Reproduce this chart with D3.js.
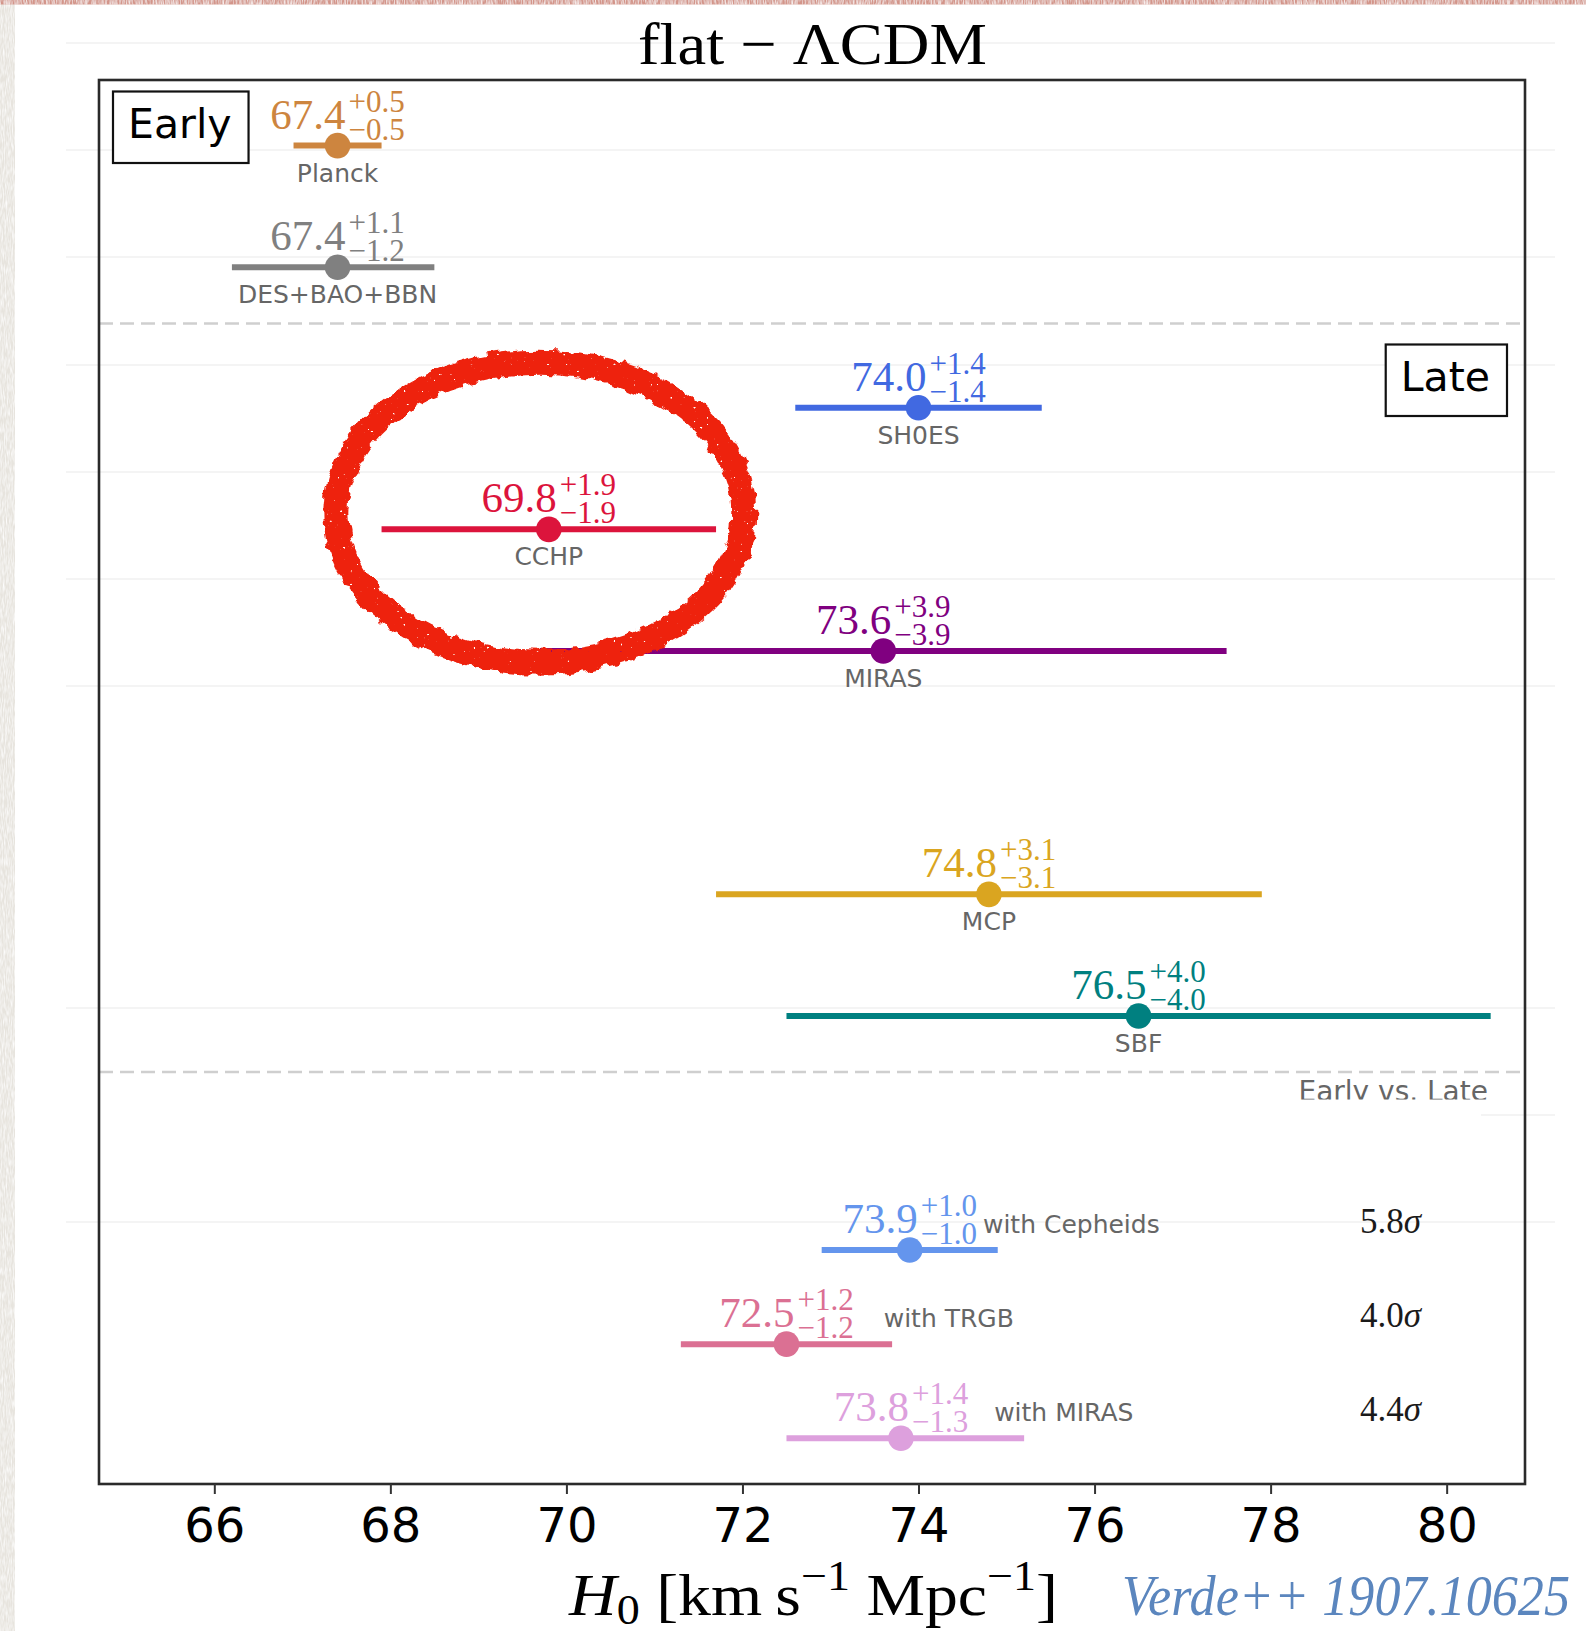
<!DOCTYPE html>
<html>
<head>
<meta charset="utf-8">
<script src="https://cdn.jsdelivr.net/npm/d3@7"></script>
<style>
  html, body { margin: 0; padding: 0; background: #ffffff; }
  svg { display: block; }
  text { white-space: pre; }
</style>
</head>
<body>
<svg id="chart" width="1586" height="1631"></svg>
<script>
// ---- H0 measurements (km s^-1 Mpc^-1) ----
const names    = ["Planck", "DES+BAO+BBN", "SH0ES", "CCHP", "MIRAS", "MCP", "SBF",
                  "with Cepheids", "with TRGB", "with MIRAS"];
const groups   = ["Early", "Early", "Late", "Late", "Late", "Late", "Late",
                  "Combined", "Combined", "Combined"];
const h0       = [67.4, 67.4, 74.0, 69.8, 73.6, 74.8, 76.5, 73.9, 72.5, 73.8];
const errPlus  = [0.5, 1.1, 1.4, 1.9, 3.9, 3.1, 4.0, 1.0, 1.2, 1.4];
const errMinus = [0.5, 1.2, 1.4, 1.9, 3.9, 3.1, 4.0, 1.0, 1.2, 1.3];
// early-vs-late tension for the combined rows, in sigma
const tensionNames = ["with Cepheids", "with TRGB", "with MIRAS"];
const tensionSigma = [5.8, 4.0, 4.4];
const xTicks = [66, 68, 70, 72, 74, 76, 78, 80];
const xLimits = [64.69, 80.89];

// ---- styling ----
const colorOf = {
  "Planck": "#cd853f", "DES+BAO+BBN": "#808080", "SH0ES": "#4169e1", "CCHP": "#dc143c",
  "MIRAS": "#800080", "MCP": "#daa520", "SBF": "#008080",
  "with Cepheids": "#6495ed", "with TRGB": "#db7093", "with MIRAS": "#dda0dd"
};
const SERIF = "'Liberation Serif', 'DejaVu Serif', serif";
const SANS = "'DejaVu Sans', sans-serif";

const rows = names.map((n, i) => ({
  name: n, group: groups[i], v: h0[i], ep: errPlus[i], em: errMinus[i]
}));

const svg = d3.select("#chart");
const W = 1586, H = 1631;
const frame = { left: 99, right: 1525, top: 80, bottom: 1484 };

// ---- page backdrop ----
const defs = svg.append("defs");
const grain = defs.append("filter").attr("id", "grain").attr("x", 0).attr("y", 0).attr("width", 1).attr("height", 1);
grain.append("feTurbulence").attr("type", "fractalNoise").attr("baseFrequency", "0.9 0.12").attr("numOctaves", 2).attr("seed", 4).attr("result", "n");
grain.append("feColorMatrix").attr("in", "n").attr("type", "matrix")
  .attr("values", "0 0 0 0 1  0 0 0 0 1  0 0 0 0 1  0 0 0 -1.6 1.05").attr("result", "speck");
grain.append("feComposite").attr("in", "speck").attr("in2", "SourceGraphic").attr("operator", "in").attr("result", "s2");
grain.append("feMerge").call(m => { m.append("feMergeNode").attr("in", "SourceGraphic"); m.append("feMergeNode").attr("in", "s2"); });

svg.append("rect").attr("width", W).attr("height", H).attr("fill", "#ffffff");
svg.append("rect").attr("x", 0).attr("y", 0).attr("width", 15).attr("height", H).attr("fill", "#e7e4de").attr("filter", "url(#grain)");
svg.append("rect").attr("x", 0).attr("y", 0).attr("width", W).attr("height", 4.5).attr("fill", "#d3958a").attr("filter", "url(#grain)");

// faint slide rules behind the figure
const rules = [43, 150, 257, 365, 472, 579, 686, 1008, 1222];
svg.append("g").selectAll("line").data(rules).join("line")
  .attr("x1", 66).attr("x2", 1555).attr("y1", d => d).attr("y2", d => d)
  .attr("stroke", "#f1f1f1").attr("stroke-width", 1.5);
svg.append("line").attr("x1", 1481).attr("x2", 1555).attr("y1", 1115).attr("y2", 1115)
  .attr("stroke", "#f1f1f1").attr("stroke-width", 1.5);

// ---- scales ----
const x = d3.scaleLinear().domain(xLimits).range([frame.left, frame.right]);

const panelRange = { Early: [145.6, 267.2], Late: [407.7, 1016], Combined: [1250, 1438.3] };
const yScales = {};
for (const g of Object.keys(panelRange)) {
  let order = rows.filter(r => r.group === g).map(r => r.name);
  if (g === "Late") order.splice(order.indexOf("MIRAS") + 1, 0, "__gap__");
  yScales[g] = d3.scalePoint().domain(order).range(panelRange[g]);
}
const yOf = r => yScales[r.group](r.name);

// group separators
svg.append("g").selectAll("line").data([323.5, 1072]).join("line")
  .attr("x1", frame.left).attr("x2", frame.right).attr("y1", d => d).attr("y2", d => d)
  .attr("stroke", "#cfcfcf").attr("stroke-width", 2.6).attr("stroke-dasharray", "14,7");

// ---- error bars and points ----
const plot = svg.append("g");
plot.selectAll("line.err").data(rows).join("line").attr("class", "err")
  .attr("x1", d => x(d.v - d.em)).attr("x2", d => x(d.v + d.ep))
  .attr("y1", yOf).attr("y2", yOf)
  .attr("stroke", d => colorOf[d.name]).attr("stroke-width", 6);
plot.selectAll("circle").data(rows).join("circle")
  .attr("cx", d => x(d.v)).attr("cy", yOf).attr("r", 12.8)
  .attr("fill", d => colorOf[d.name]);

// value labels: 67.4^{+0.5}_{-0.5}, centred on the point
function valueLabel(d) {
  const cx = x(d.v), base = yOf(d) - 17;
  const g = plot.append("g").attr("fill", colorOf[d.name]).attr("font-family", SERIF);
  const main = g.append("text").attr("font-size", 43).text(d.v.toFixed(1));
  const scr = g.append("text").attr("font-size", 31);
  const sup = scr.append("tspan").text("+" + d.ep.toFixed(1));
  const sub = scr.append("tspan").text("\u2212" + d.em.toFixed(1));
  const w1 = main.node().getComputedTextLength();
  const w2 = Math.max(sup.node().getComputedTextLength(), sub.node().getComputedTextLength());
  const gap = 3, total = w1 + gap + w2, x0 = cx - total / 2;
  main.attr("x", x0).attr("y", base);
  sup.attr("x", x0 + w1 + gap).attr("y", base - 17);
  sub.attr("x", x0 + w1 + gap).attr("y", base + 11);
  return x0 + total;
}

const suffixGap = { "with Cepheids": 6, "with TRGB": 30, "with MIRAS": 26 };
rows.forEach(d => {
  const right = valueLabel(d);
  if (d.group === "Combined") {
    plot.append("text").attr("x", right + suffixGap[d.name]).attr("y", yOf(d) - 17)
      .attr("font-family", SANS).attr("font-size", 25).attr("fill", "#666")
      .text(d.name);
  } else {
    plot.append("text").attr("x", x(d.v)).attr("y", yOf(d) + 36)
      .attr("text-anchor", "middle").attr("font-family", SANS).attr("font-size", 25)
      .attr("fill", "#666").text(d.name);
  }
});

// tension in sigma for combined rows
tensionNames.forEach((n, i) => {
  const r = rows.find(q => q.name === n);
  const t = plot.append("text").attr("x", 1360).attr("y", yOf(r) - 17)
    .attr("font-family", SERIF).attr("font-size", 35).attr("fill", "#1a1a1a");
  t.append("tspan").text(tensionSigma[i].toFixed(1));
  t.append("tspan").attr("font-style", "italic").text("\u03c3");
});

// ---- panel tags ----
function tag(text, anchorX, baseline, anchor) {
  const t = svg.append("text").attr("x", anchorX).attr("y", baseline)
    .attr("text-anchor", anchor).attr("font-family", SANS).attr("font-size", 41)
    .attr("fill", "#000").text(text);
  const bb = t.node().getBBox();
  svg.insert("rect", () => t.node())
    .attr("x", bb.x - 15).attr("y", baseline - 46.5).attr("width", bb.width + 32).attr("height", 71.5)
    .attr("fill", "#fff").attr("stroke", "#111").attr("stroke-width", 2.2);
}
tag("Early", 128, 138, "start");
tag("Late", frame.right - 35, 391, "end");

// combined-section caption, trimmed at its lower edge
defs.append("clipPath").attr("id", "capclip").append("rect")
  .attr("x", 1200).attr("y", 1074).attr("width", 320).attr("height", 25.5);
svg.append("text").attr("x", 1488).attr("y", 1101).attr("text-anchor", "end")
  .attr("clip-path", "url(#capclip)")
  .attr("font-family", SANS).attr("font-size", 28).attr("fill", "#666").text("Early vs. Late");

// ---- frame and axis ----
svg.append("rect").attr("x", frame.left).attr("y", frame.top)
  .attr("width", frame.right - frame.left).attr("height", frame.bottom - frame.top)
  .attr("fill", "none").attr("stroke", "#2a2a2a").attr("stroke-width", 2.6);

const axis = svg.append("g").attr("transform", `translate(0,${frame.bottom})`)
  .call(d3.axisBottom(x).tickValues(xTicks).tickSize(10).tickPadding(14).tickFormat(d3.format("d")));
axis.select(".domain").remove();
axis.selectAll(".tick line").attr("stroke", "#333").attr("stroke-width", 2);
axis.selectAll(".tick text").attr("font-family", SANS).attr("font-size", 48).attr("fill", "#000");

// fit a text group horizontally into a given width
function fitTo(g, width) {
  const bb = g.node().getBBox();
  const s = width / bb.width;
  const tr = g.attr("transform");
  g.attr("transform", `${tr} scale(${s},1) translate(${-bb.x},0)`);
}

// title
const title = svg.append("g").attr("transform", "translate(638,64)");
title.append("text").attr("font-family", SERIF).attr("font-size", 60).attr("fill", "#000")
  .text("flat \u2212 \u039bCDM");
fitTo(title, 349);

// x-axis label
const xl = svg.append("g").attr("transform", "translate(568,1615)");
const xt = xl.append("text").attr("font-family", SERIF).attr("font-size", 60).attr("fill", "#000");
xt.append("tspan").attr("font-style", "italic").text("H");
xt.append("tspan").attr("font-size", 42).attr("dy", 9).text("0");
xt.append("tspan").attr("dy", -9).text(" [km\u2009s");
xt.append("tspan").attr("font-size", 42).attr("dy", -25).text("\u22121");
xt.append("tspan").attr("dy", 25).text(" Mpc");
xt.append("tspan").attr("font-size", 42).attr("dy", -25).text("\u22121");
xt.append("tspan").attr("dy", 25).text("]");
fitTo(xl, 490);

// reference credit
const cr = svg.append("g").attr("transform", "translate(1122,1615)");
cr.append("text").attr("font-family", SERIF).attr("font-style", "italic").attr("font-size", 56)
  .attr("fill", "#5b86be").text("Verde++ 1907.10625");
fitTo(cr, 448);

// ---- hand-drawn highlight around CCHP ----
const rough = defs.append("filter").attr("id", "rough").attr("x", "-10%").attr("y", "-10%").attr("width", "120%").attr("height", "120%");
rough.append("feTurbulence").attr("type", "fractalNoise").attr("baseFrequency", 0.09).attr("numOctaves", 2).attr("seed", 7).attr("result", "t");
rough.append("feDisplacementMap").attr("in", "SourceGraphic").attr("in2", "t").attr("scale", 11)
  .attr("xChannelSelector", "R").attr("yChannelSelector", "G").attr("result", "d");
rough.append("feTurbulence").attr("type", "turbulence").attr("baseFrequency", 0.3).attr("numOctaves", 1).attr("seed", 2).attr("result", "n");
rough.append("feColorMatrix").attr("in", "n").attr("type", "matrix")
  .attr("values", "0 0 0 0 0  0 0 0 0 0  0 0 0 0 0  9 0 0 0 -4.4").attr("result", "holes");
rough.append("feComposite").attr("in", "d").attr("in2", "holes").attr("operator", "out");
const cchp = rows.find(r => r.name === "CCHP");
svg.append("ellipse")
  .attr("cx", x(cchp.v) - 9).attr("cy", yOf(cchp) - 17)
  .attr("rx", 204).attr("ry", 150)
  .attr("fill", "none").attr("stroke", "#ee2211").attr("stroke-width", 25)
  .attr("filter", "url(#rough)");
</script>
</body>
</html>
